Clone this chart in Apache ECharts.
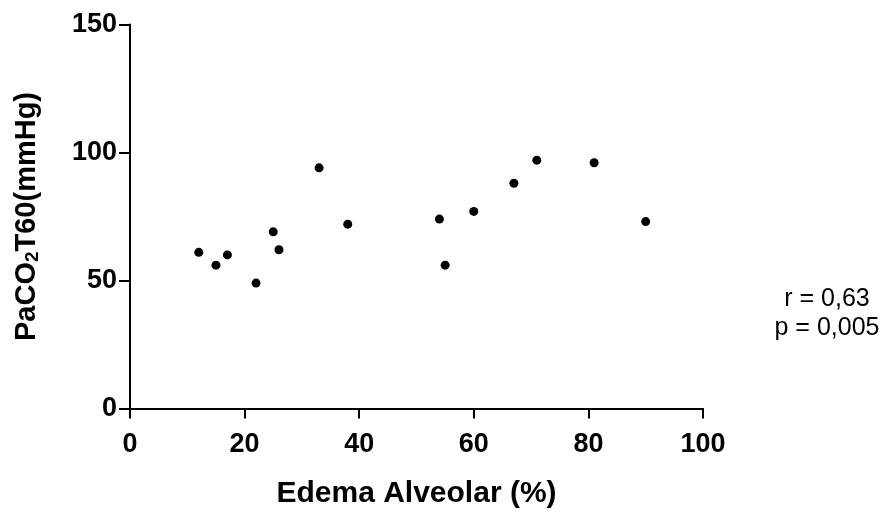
<!DOCTYPE html>
<html>
<head>
<meta charset="utf-8">
<script src="https://cdn.jsdelivr.net/npm/echarts@6/dist/echarts.min.js"></script>
<style>
  html, body { margin: 0; padding: 0; background: #fff; }
  #chart { width: 888px; height: 511px; }
</style>
</head>
<body>
<div id="chart"></div>
<script>
// Edema alveolar (%) vs PaCO2 T60 (mmHg)
const edema = [12, 15, 17, 22, 25, 26, 33, 38, 54, 55, 60, 67, 71, 81, 90]
const paco2 = [61, 56, 60, 49, 69, 62, 94, 72, 74, 56, 77, 88, 97, 96, 73]
const xTicks = [0, 20, 40, 60, 80, 100]
const yTicks = [0, 50, 100, 150]
const statLines = ['r = 0,63', 'p = 0,005']

const font = 'Liberation Sans, Arial, sans-serif'

const chart = echarts.init(document.getElementById('chart'), null, { renderer: 'canvas' })

chart.setOption({
  animation: false,
  backgroundColor: '#fff',
  grid: { left: 130, right: 185, top: 24.5, bottom: 102.5, outerBoundsMode: 'none', containLabel: false },
  xAxis: {
    type: 'value',
    min: xTicks[0],
    max: xTicks[xTicks.length - 1],
    interval: 20,
    name: 'Edema Alveolar (%)',
    nameLocation: 'middle',
    nameGap: 70,
    nameTextStyle: { fontFamily: font, fontWeight: 'bold', fontSize: 30, color: '#000' },
    axisLine: { lineStyle: { color: '#000', width: 2 } },
    axisTick: { show: true, length: 10, lineStyle: { color: '#000', width: 2 } },
    axisLabel: { fontFamily: font, fontWeight: 'bold', fontSize: 27, color: '#000', margin: 23 },
    splitLine: { show: false }
  },
  yAxis: {
    type: 'value',
    min: yTicks[0],
    max: yTicks[yTicks.length - 1],
    interval: 50,
    name: '{m|PaCO}{s|2}{m|T60(mmHg)}',
    nameLocation: 'middle',
    nameGap: 88,
    nameRotate: 90,
    nameTextStyle: {
      rich: {
        m: { fontFamily: font, fontWeight: 'bold', fontSize: 29, color: '#000' },
        s: { fontFamily: font, fontWeight: 'bold', fontSize: 19, color: '#000', verticalAlign: 'bottom', padding: [12, 0, 0, 0] }
      }
    },
    axisLine: { show: true, lineStyle: { color: '#000', width: 2 } },
    axisTick: { show: true, length: 11, lineStyle: { color: '#000', width: 2 } },
    axisLabel: { fontFamily: font, fontWeight: 'bold', fontSize: 27, color: '#000', margin: 13 },
    splitLine: { show: false }
  },
  series: [{
    type: 'scatter',
    symbol: 'circle',
    symbolSize: 9,
    itemStyle: { color: '#000', opacity: 1 },
    data: edema.map((x, i) => [x, paco2[i]])
  }],
  graphic: statLines.map((t, i) => ({
    type: 'text',
    x: 827,
    y: 299 + i * 29,
    style: { text: t, fontFamily: font, fontSize: 25, fill: '#000', align: 'center', verticalAlign: 'middle' }
  }))
})
</script>
</body>
</html>
